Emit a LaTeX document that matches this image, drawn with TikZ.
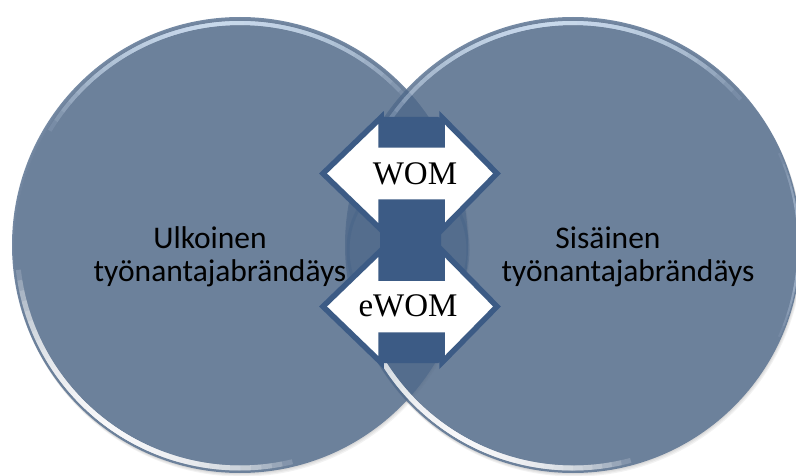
\documentclass[tikz,border=0pt]{standalone}
\usepackage{fontspec}
\setmainfont{Carlito}
\newfontfamily\arrowfont{Liberation Serif}
\definecolor{discfill}{RGB}{80,106,139}
\definecolor{arrowline}{RGB}{60,91,133}
\definecolor{rimlight}{RGB}{214,230,248}
\tikzset{
  disc/.style={circle, minimum size=456pt, inner sep=0pt, fill=discfill, fill opacity=0.79},
  discshadow/.style={circle, minimum size=456pt, inner sep=0pt, fill=black, fill opacity=0.05},
  toprim/.style={draw=rimlight, line width=4pt, draw opacity=0.12},
  lowrim/.style={draw=white, line width=5pt, draw opacity=0.17},
  arrowbody/.style={fill=white, draw=arrowline, line width=5.5pt, line join=miter},
  core/.style={fill=arrowline, rounded corners=3pt},
  label/.style={font=\fontsize{31.5}{36}\selectfont, text=black, align=center, inner sep=0pt},
  arrowtext/.style={font=\arrowfont\fontsize{33}{36}\selectfont, text=black, inner sep=0pt}
}
\begin{document}
\begin{tikzpicture}[x=1pt,y=1pt]
\useasboundingbox (0,0) rectangle (796,475);

% soft shadows under the two discs
\foreach \d in {1,2,3}{
  \node[discshadow] at (240+\d*0.6,230-\d*1.2) {};
  \node[discshadow] at (573+\d*0.6,230-\d*1.2) {};
}

% left disc with its bevel highlights (stacked arcs give a smooth fade)
\node[disc] (L) at (240,230) {};
\foreach \k in {1,...,18}{
  \draw[toprim] (L.center) ++(95-\k*3:222) arc[start angle=95-\k*3, end angle=95+\k*3, radius=222];
  \draw[lowrim] (L.center) ++(235-\k*2.7:223) arc[start angle=235-\k*2.7, end angle=235+\k*2.7, radius=223];
}

% right disc with its bevel highlights
\node[disc] (R) at (573,230) {};
\foreach \k in {1,...,18}{
  \draw[toprim] (R.center) ++(95-\k*3:222) arc[start angle=95-\k*3, end angle=95+\k*3, radius=222];
  \draw[lowrim] (R.center) ++(240-\k*2.5:223) arc[start angle=240-\k*2.5, end angle=240+\k*2.5, radius=223];
}
\foreach \k in {1,...,8}{
  \draw[draw=rimlight, line width=2pt, draw opacity=0.1] (R.center) ++(-\k*3:225.5) arc[start angle=-\k*3, end angle=\k*3, radius=225.5];
}

% faint ring inside the overlap
\draw[draw=arrowline, line width=3pt, draw opacity=0.25] (408,225) ellipse[x radius=60, y radius=72];

% dark core behind the two arrows
\node[core, minimum width=61pt, minimum height=246pt, inner sep=0pt] (C) at (410.5,235) {};

% upper double arrow (WOM)
\coordinate (W) at (410,301.5);
\draw[arrowbody] (W) ++(-87,0) -- ++(58,56) -- ++(0,-27.5) -- ++(61,0) -- ++(0,27.5)
  -- ++(55,-56) -- ++(-55,-56) -- ++(0,27.5) -- ++(-61,0) -- ++(0,-27.5) -- cycle;
\node[arrowtext] (wom) at (415,301) {WOM};

% lower double arrow (eWOM)
\coordinate (E) at (410,168.5);
\draw[arrowbody] (E) ++(-87,0) -- ++(58,56) -- ++(0,-27.5) -- ++(61,0) -- ++(0,27.5)
  -- ++(55,-56) -- ++(-55,-56) -- ++(0,27.5) -- ++(-61,0) -- ++(0,-27.5) -- cycle;
\node[arrowtext] (ewom) at (408,169) {eWOM};

% disc captions
\node[label] (l1) at (210,237) {Ulkoinen};
\node[label] (l2) at (220,202) {työnantajabrändäys};
\node[label] (r1) at (608,237) {Sisäinen};
\node[label] (r2) at (628,202) {työnantajabrändäys};
\end{tikzpicture}
\end{document}
